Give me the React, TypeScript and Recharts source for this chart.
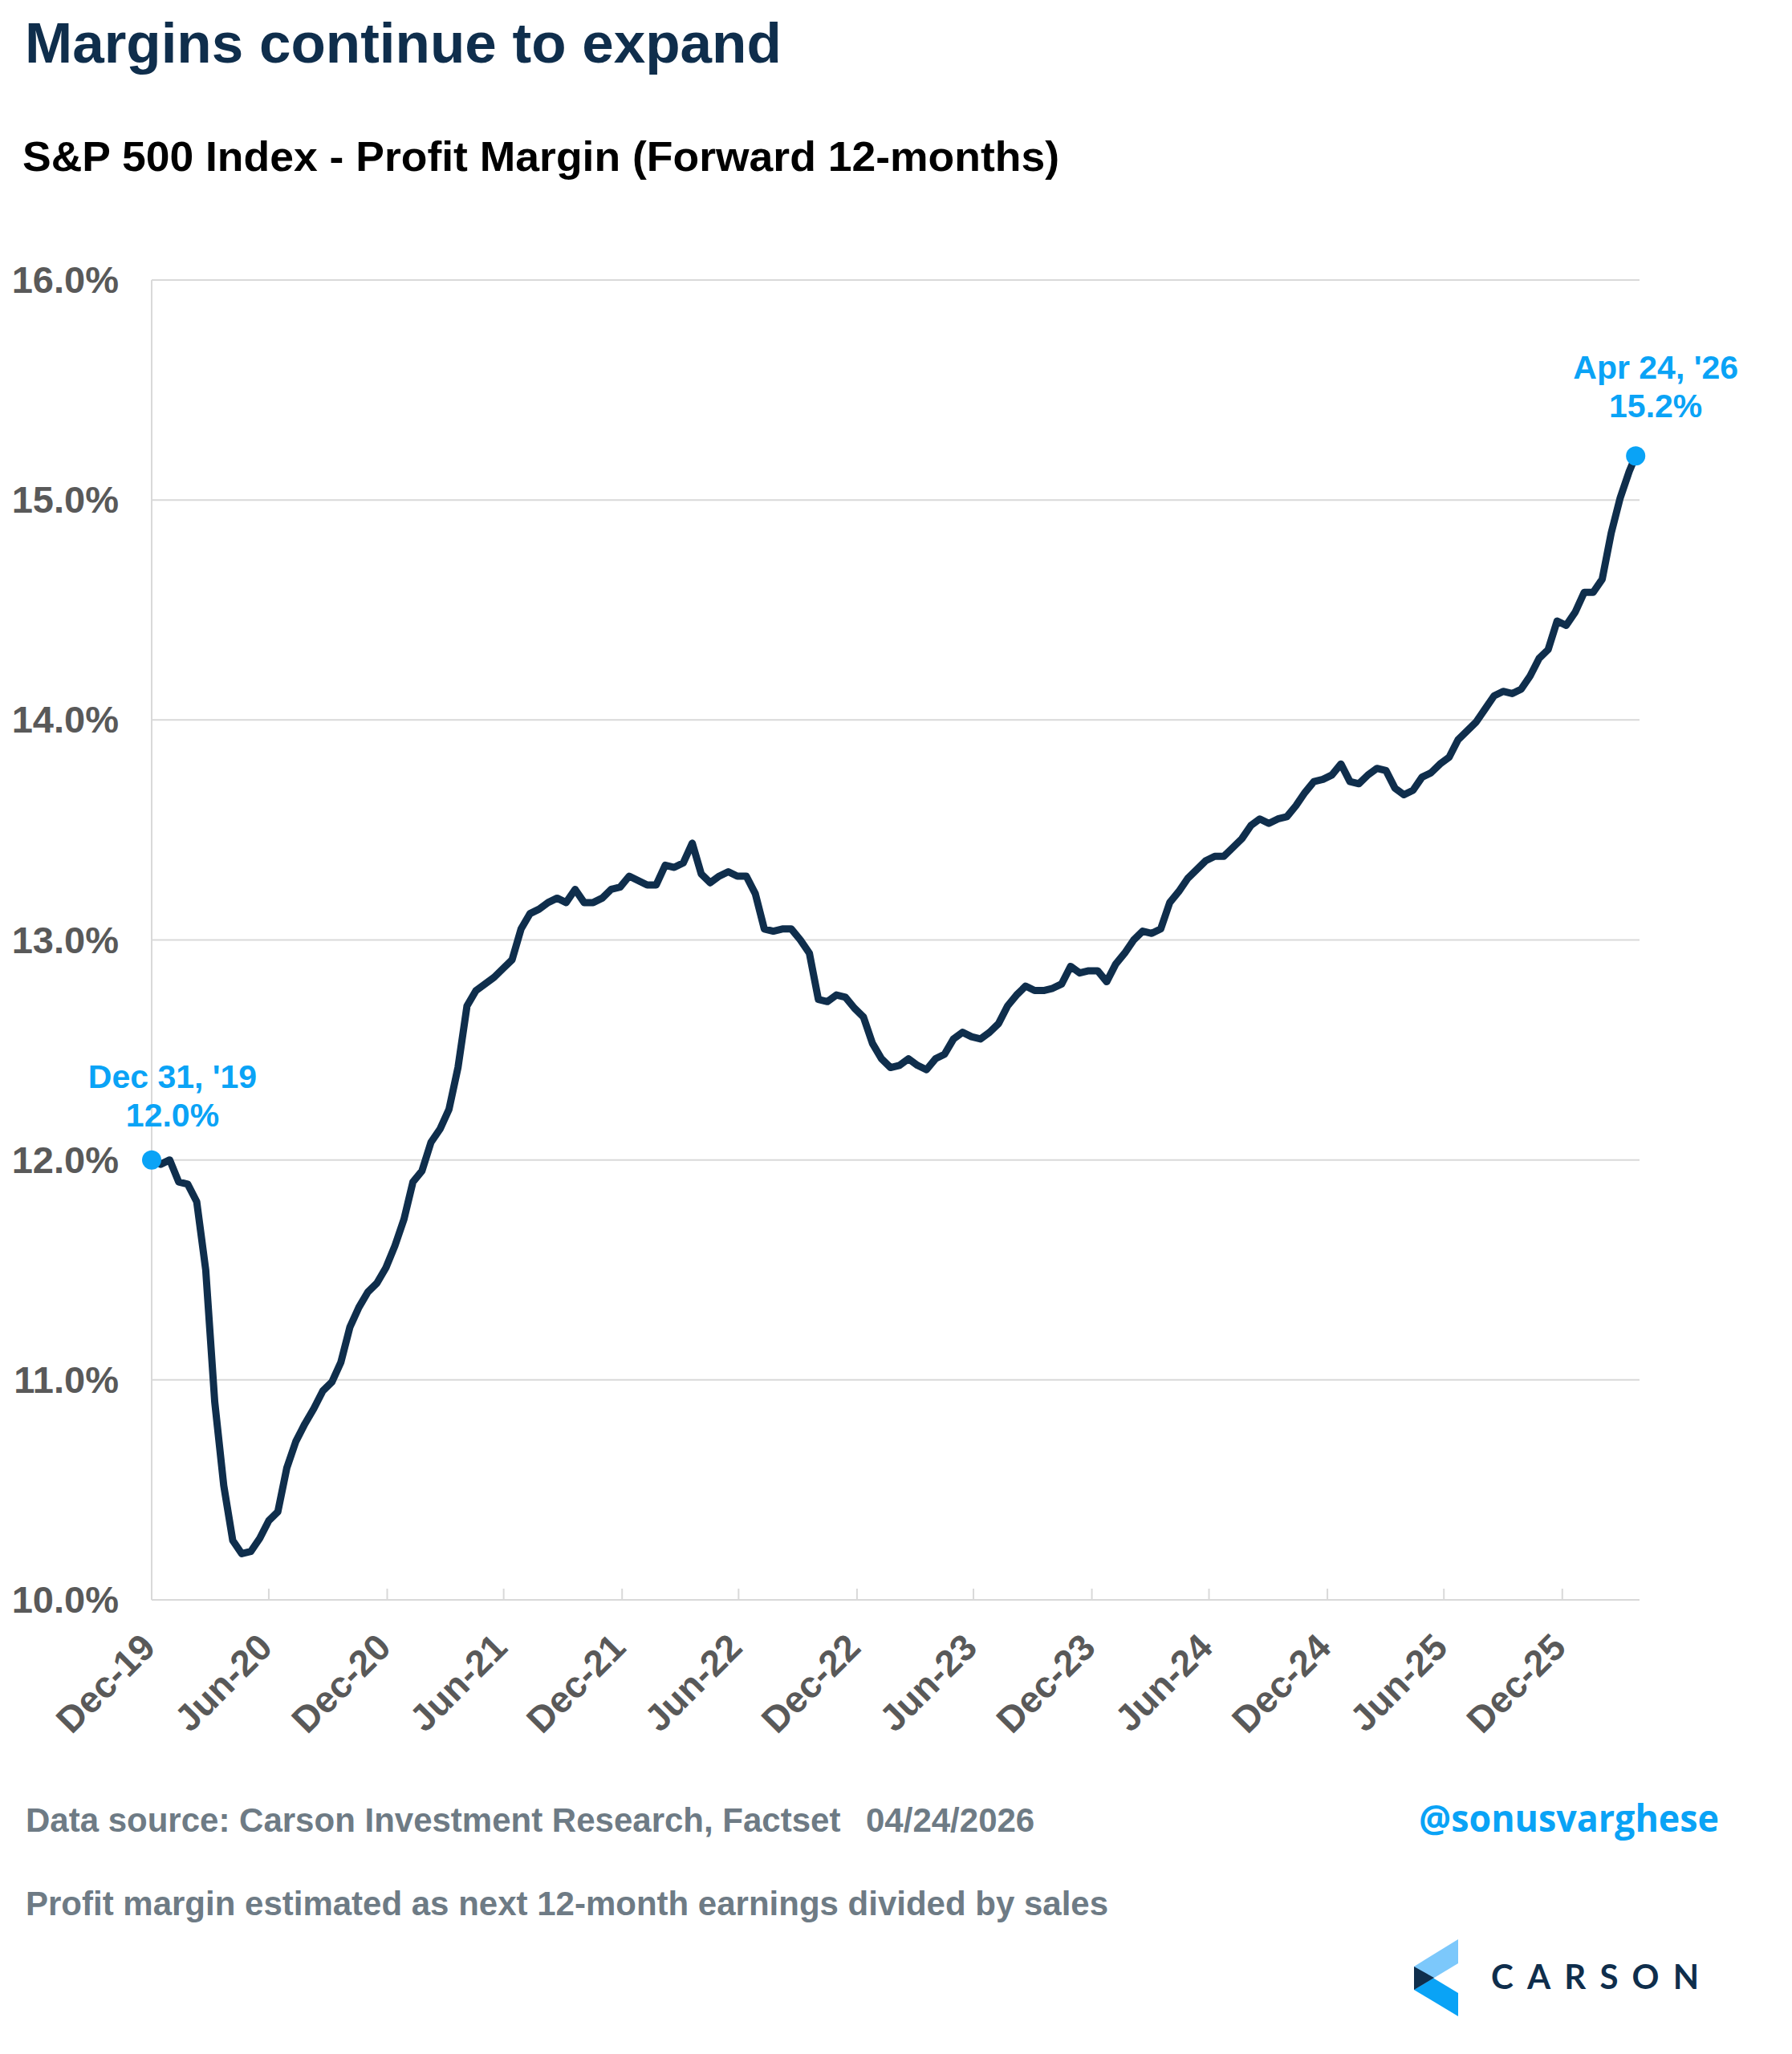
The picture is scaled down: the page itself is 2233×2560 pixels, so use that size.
import React from "react";
import { LineChart, Line, XAxis, YAxis, CartesianGrid } from "recharts";

// Readings are fortnightly, starting Dec 31, 2019 (forward 12m profit margin, %)
const START = "2019-12-31";
const STEP_DAYS = 14;

const y2020 = [12.0, 11.98, 12.0, 11.9, 11.89, 11.81, 11.5, 10.9, 10.52, 10.27, 10.21, 10.22, 10.28, 10.36, 10.4, 10.6, 10.72, 10.8, 10.87, 10.95, 10.99, 11.08, 11.24, 11.33, 11.4, 11.44];
const y2021 = [11.51, 11.61, 11.73, 11.9, 11.95, 12.08, 12.14, 12.23, 12.42, 12.7, 12.77, 12.8, 12.83, 12.87, 12.91, 13.05, 13.12, 13.14, 13.17, 13.19, 13.17, 13.23, 13.17, 13.17, 13.19, 13.23];
const y2022 = [13.24, 13.29, 13.27, 13.25, 13.25, 13.34, 13.33, 13.35, 13.44, 13.3, 13.26, 13.29, 13.31, 13.29, 13.29, 13.21, 13.05, 13.04, 13.05, 13.05, 13.0, 12.94, 12.73, 12.72, 12.75, 12.74];
const y2023 = [12.69, 12.65, 12.53, 12.46, 12.42, 12.43, 12.46, 12.43, 12.41, 12.46, 12.48, 12.55, 12.58, 12.56, 12.55, 12.58, 12.62, 12.7, 12.75, 12.79, 12.77, 12.77, 12.78, 12.8, 12.88, 12.85];
const y2024 = [12.86, 12.86, 12.81, 12.89, 12.94, 13.0, 13.04, 13.03, 13.05, 13.17, 13.22, 13.28, 13.32, 13.36, 13.38, 13.38, 13.42, 13.46, 13.52, 13.55, 13.53, 13.55, 13.56, 13.61, 13.67, 13.72];
const y2025 = [13.73, 13.75, 13.8, 13.72, 13.71, 13.75, 13.78, 13.77, 13.69, 13.66, 13.68, 13.74, 13.76, 13.8, 13.83, 13.91, 13.95, 13.99, 14.05, 14.11, 14.13, 14.12, 14.14, 14.2, 14.28, 14.32];
const y2026 = [14.45, 14.43, 14.49, 14.58, 14.58, 14.64, 14.85, 15.01, 15.13];

const LAST_DATE = "2026-04-24";
const LAST_VALUE = 15.2;

const tickDates = ["2019-12-31", "2020-06-30", "2020-12-31", "2021-06-30", "2021-12-31", "2022-06-30", "2022-12-31", "2023-06-30", "2023-12-31", "2024-06-30", "2024-12-31", "2025-06-30", "2025-12-31"];
const tickLabels = ["Dec-19", "Jun-20", "Dec-20", "Jun-21", "Dec-21", "Jun-22", "Dec-22", "Jun-23", "Dec-23", "Jun-24", "Dec-24", "Jun-25", "Dec-25"];
const yTicks = [10, 11, 12, 13, 14, 15, 16];

const FONT = "'Liberation Sans', Arial, Helvetica, sans-serif";
const NAVY = "#0F2E4C";
const ACCENT = "#0AA3F6";
const GRID = "#D9D9D9";
const AXIS_TEXT = "#595959";
const FOOT = "#6E7B85";

const dayOf = (iso: string) => Math.round((Date.parse(iso) - Date.parse(START)) / 86400000);

const data = [...y2020, ...y2021, ...y2022, ...y2023, ...y2024, ...y2025, ...y2026].map((v, i) => ({
  day: i * STEP_DAYS,
  margin: v,
}));
data.push({ day: dayOf(LAST_DATE), margin: LAST_VALUE });

const tickDays = tickDates.map(dayOf);
const labelByDay = new Map(tickDays.map((d, i) => [d, tickLabels[i]]));

function XTick(props: any) {
  const { x, y, payload } = props;
  const ax = x + 7;
  const ay = y + 62;
  return (
    <g>
      <line x1={x} x2={x} y1={y - 14} y2={y} stroke={GRID} strokeWidth={2} />
      <text
        x={ax}
        y={ay}
        transform={`rotate(-45 ${ax} ${ay})`}
        textAnchor="end"
        fill={AXIS_TEXT}
        fontFamily={FONT}
        fontWeight="bold"
        fontSize={46}
      >
        {labelByDay.get(payload.value)}
      </text>
    </g>
  );
}

function YTick(props: any) {
  const { y, payload } = props;
  return (
    <text x={148} y={y + 16} textAnchor="end" fill={AXIS_TEXT} fontFamily={FONT} fontWeight="bold" fontSize={47}>
      {payload.value.toFixed(1)}%
    </text>
  );
}

// first and last points get a blue marker with a date/value note
function EndDot(props: any) {
  const { cx, cy, index } = props;
  const last = data.length - 1;
  if (index !== 0 && index !== last) return <g key={`d${index}`} />;
  const first = index === 0;
  const tx = first ? cx + 26 : cx + 25;
  const l1 = first ? cy - 90 : cy - 96;
  const l2 = first ? cy - 42 : cy - 48;
  return (
    <g key={`d${index}`}>
      <circle cx={cx} cy={cy} r={12} fill={ACCENT} />
      <text textAnchor="middle" fill={ACCENT} fontFamily={FONT} fontWeight="bold" fontSize={41}>
        <tspan x={tx} y={l1}>{first ? "Dec 31, '19" : "Apr 24, '26"}</tspan>
        <tspan x={tx} y={l2}>{first ? "12.0%" : "15.2%"}</tspan>
      </text>
    </g>
  );
}

export default function App() {
  return (
    <div style={{ position: "absolute", left: 0, top: 0, width: 2233, height: 2560, background: "#fff" }}>
      <LineChart
        width={2233}
        height={2560}
        data={data}
        margin={{ top: 349, right: 190, bottom: 466, left: 39 }}
      >
        <CartesianGrid vertical={false} stroke={GRID} strokeWidth={2} />
        <XAxis
          dataKey="day"
          type="number"
          domain={[0, 2312]}
          ticks={tickDays}
          interval={0}
          height={100}
          tickSize={0}
          tickMargin={0}
          tickLine={false}
          axisLine={{ stroke: GRID, strokeWidth: 2 }}
          tick={<XTick />}
        />
        <YAxis
          type="number"
          domain={[10, 16]}
          ticks={yTicks}
          width={150}
          tickLine={false}
          axisLine={{ stroke: GRID, strokeWidth: 2 }}
          tick={<YTick />}
        />
        <Line
          dataKey="margin"
          type="linear"
          stroke={NAVY}
          strokeWidth={9}
          strokeLinejoin="round"
          strokeLinecap="round"
          dot={EndDot}
          activeDot={false}
          isAnimationActive={false}
        />
      </LineChart>

      <svg
        width={2233}
        height={2560}
        style={{ position: "absolute", left: 0, top: 0, pointerEvents: "none" }}
      >
        <text x={31} y={78} fill={NAVY} fontFamily={FONT} fontWeight="bold" fontSize={71}>
          Margins continue to expand
        </text>
        <text
          x={28}
          y={213}
          fill="#000"
          fontFamily={FONT}
          fontWeight="bold"
          fontSize={52}
          textLength={1292}
          lengthAdjust="spacingAndGlyphs"
        >
          S&amp;P 500 Index - Profit Margin (Forward 12-months)
        </text>

        <text x={32} y={2283} fill={FOOT} fontFamily={FONT} fontWeight="bold" fontSize={42}>
          Data source: Carson Investment Research, Factset
        </text>
        <text x={1079} y={2283} fill={FOOT} fontFamily={FONT} fontWeight="bold" fontSize={42}>
          04/24/2026
        </text>
        <text x={32} y={2387} fill={FOOT} fontFamily={FONT} fontWeight="bold" fontSize={42}>
          Profit margin estimated as next 12-month earnings divided by sales
        </text>

        <text
          x={1768}
          y={2283}
          fill={ACCENT}
          fontFamily="'Open Sans', sans-serif"
          fontWeight="bold"
          fontSize={46}
          textLength={374}
          lengthAdjust="spacingAndGlyphs"
        >
          @sonusvarghese
        </text>

        <g>
          <polygon points="1762,2451 1817,2484 1817,2513 1762,2480" fill={ACCENT} />
          <polygon points="1762,2451 1817,2417 1817,2447 1762,2480" fill="#7CC8FB" />
          <polygon points="1762,2451 1787,2465 1762,2480" fill={NAVY} />
          <text
            x={1858}
            y={2479}
            fill={NAVY}
            fontFamily="Lato, 'Noto Sans', sans-serif"
            fontWeight="bold"
            fontSize={42}
            textLength={259}
            lengthAdjust="spacing"
          >
            CARSON
          </text>
        </g>
      </svg>
    </div>
  );
}
